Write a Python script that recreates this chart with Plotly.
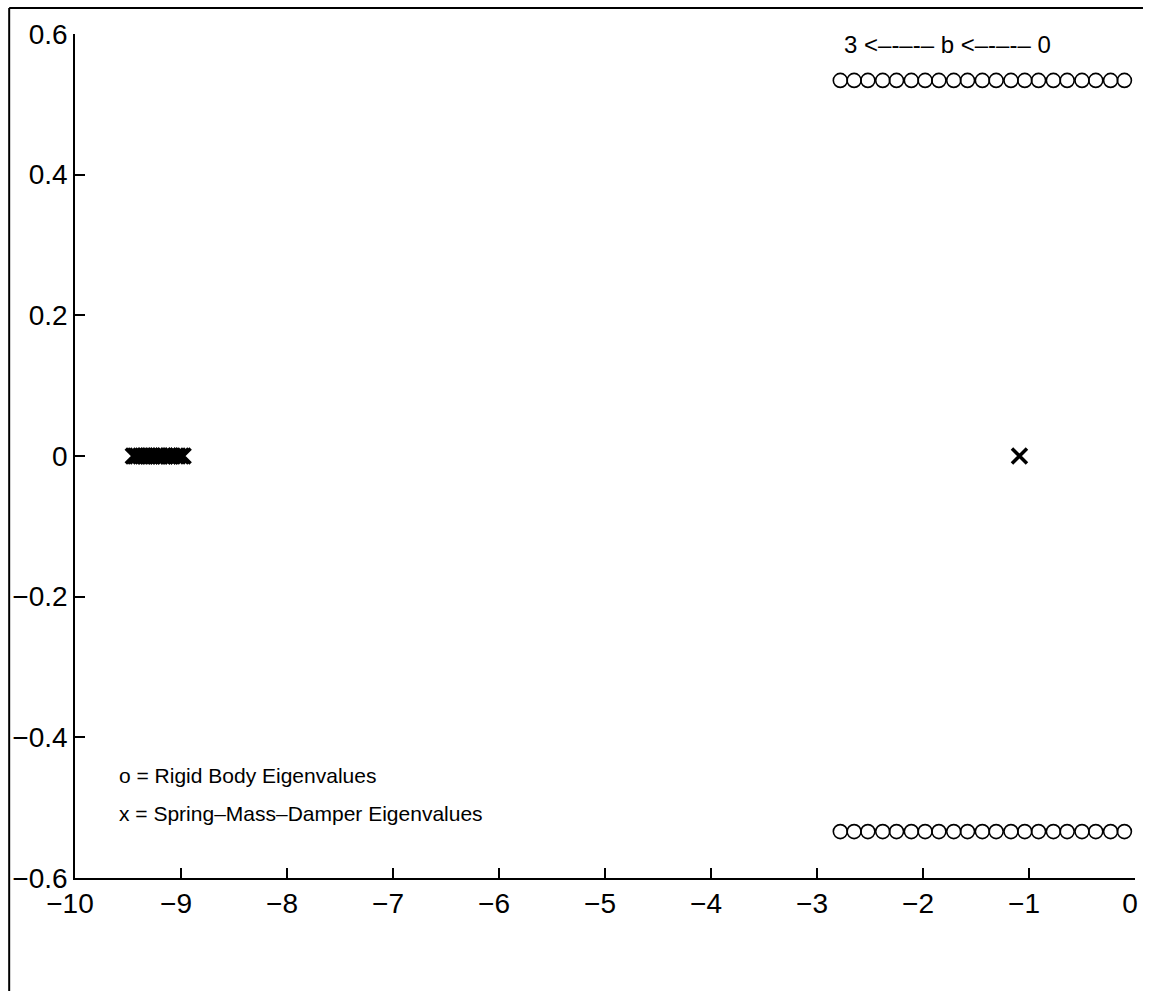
import plotly.graph_objects as go

# Eigenvalue real parts as damping b sweeps from 0 to 3
rigid_real = [-0.10, -0.23, -0.37, -0.50, -0.64, -0.77, -0.91, -1.04, -1.17, -1.31, -1.44,
              -1.58, -1.71, -1.85, -1.98, -2.11, -2.25, -2.38, -2.52, -2.65, -2.78]
rigid_imag_upper = [0.534] * len(rigid_real)
rigid_imag_lower = [-0.534] * len(rigid_real)

smd_real = [-8.98, -9.00, -9.03, -9.05, -9.08, -9.10, -9.12, -9.15, -9.17, -9.20, -9.22,
            -9.24, -9.27, -9.29, -9.31, -9.34, -9.36, -9.38, -9.41, -9.43, -9.45, -1.09]
smd_imag = [0.0] * len(smd_real)

x_ticks = [-10, -9, -8, -7, -6, -5, -4, -3, -2, -1, 0]
y_ticks = [-0.6, -0.4, -0.2, 0, 0.2, 0.4, 0.6]
y_tick_text = ["\u22120.6", "\u22120.4", "\u22120.2", "0", "0.2", "0.4", "0.6"]

W, H = 1150, 991
L, R, T, B = 74, 13, 34, 113
TICK_FONT = dict(family="Liberation Sans, Arial, sans-serif", size=28, color="black")
TEXT_FONT = dict(family="Liberation Sans, Arial, sans-serif", size=21, color="black")
TOP_FONT = dict(family="Liberation Sans, Arial, sans-serif", size=24, color="black")

fig = go.Figure()
for ys in (rigid_imag_upper, rigid_imag_lower):
    fig.add_trace(go.Scatter(
        x=rigid_real, y=ys, mode="markers",
        marker=dict(symbol="circle-open", size=14, color="black", line=dict(width=1.6, color="black")),
        showlegend=False, hoverinfo="skip"))
fig.add_trace(go.Scatter(
    x=smd_real, y=smd_imag, mode="markers",
    marker=dict(symbol="x-thin-open", size=15, color="black", line=dict(width=3.5, color="black")),
    showlegend=False, hoverinfo="skip"))

axis_common = dict(showgrid=False, zeroline=False, showline=True, linecolor="black", linewidth=1.5,
                   ticks="inside", ticklen=10, tickwidth=1.5, tickcolor="black",
                   tickfont=TICK_FONT, mirror=False)
fig.update_xaxes(range=[-10, 0], tickvals=x_ticks, ticklabelshift=-5,
                 ticktext=[str(v).replace("-", "\u2212") for v in x_ticks], **axis_common)
fig.update_yaxes(range=[-0.6, 0.6], tickvals=y_ticks, ticktext=y_tick_text, **axis_common)

# Outer frame: left edge and top edge of the figure box
pw, ph = W - L - R, H - T - B
def px_x(p):
    return (p - L) / pw
def px_y(p):
    return (H - B - p) / ph
frame = dict(color="black", width=2)
fig.add_shape(type="line", xref="paper", yref="paper",
              x0=px_x(8), x1=px_x(8), y0=px_y(8), y1=px_y(H), line=frame)
fig.add_shape(type="line", xref="paper", yref="paper",
              x0=px_x(8), x1=px_x(1145), y0=px_y(8), y1=px_y(8), line=frame)

fig.add_annotation(x=-1.77, y=0.585, xref="x", yref="y",
                   text="3 <\u2013-\u2013-\u2013 b <\u2013-\u2013-\u2013 0",
                   showarrow=False, font=TOP_FONT, xanchor="center", yanchor="middle")
fig.add_annotation(x=-9.6, y=-0.454, xref="x", yref="y", text="o = Rigid Body Eigenvalues",
                   showarrow=False, font=TEXT_FONT, xanchor="left", yanchor="middle")
fig.add_annotation(x=-9.6, y=-0.508, xref="x", yref="y", text="x = Spring\u2013Mass\u2013Damper Eigenvalues",
                   showarrow=False, font=TEXT_FONT, xanchor="left", yanchor="middle")

fig.update_layout(width=W, height=H, margin=dict(l=L, r=R, t=T, b=B, pad=0),
                  paper_bgcolor="white", plot_bgcolor="white", font=TEXT_FONT)

fig.write_html("out.html")
